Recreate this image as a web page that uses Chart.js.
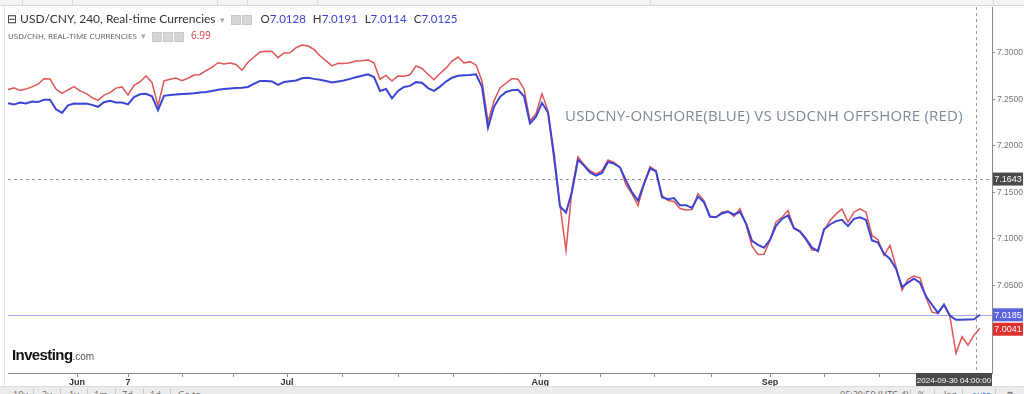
<!DOCTYPE html>
<html>
<head>
<meta charset="utf-8">
<script src="https://cdn.jsdelivr.net/npm/chart.js@4.4.1/dist/chart.umd.min.js"></script>
<style>
  html, body { margin: 0; padding: 0; background: #fff; }
  #wrap { position: relative; width: 1024px; height: 394px; overflow: hidden; font-family: "Open Sans", "Liberation Sans", sans-serif; }
  #chart { position: absolute; left: 0; top: 0; }
  .topbar { position: absolute; left: 0; top: 0; width: 1024px; height: 5px; background: #f4f4f4; border-bottom: 1px solid #d8d8d8; }
  .topbar i { position: absolute; top: 0; width: 1px; height: 5px; background: #d8d8d8; }
  .leftline { position: absolute; left: 4px; top: 6px; width: 1px; height: 380px; background: #e4e4e4; }
  .hdr1 { position: absolute; left: 7px; top: 11px; font-family: Lato, sans-serif; font-size: 12px; color: #333; white-space: nowrap; }
  .hdr1 .ohlc { font-size: 11.5px; color: #333; margin-left: 8px; }
  .hdr1 .ohlc b { font-weight: normal; color: #3a3fd6; margin-right: 7px; }
  .hdr2 { position: absolute; left: 8px; top: 28px; font-size: 8px; color: #555; white-space: nowrap; }
  .hdr2 .v { color: #e03a3a; font-size: 10px; margin-left: 6px; }
  .ico { display: inline-block; width: 8px; height: 8px; background: #d6d6d6; border: 1px solid #c8c8c8; margin-right: 1px; vertical-align: middle; }
  .dd { color: #aaa; margin: 0 6px 0 4px; font-size: 9px; }
  .note { position: absolute; left: 565px; top: 105px; font-size: 15px; color: #7d8999; white-space: nowrap; letter-spacing: 0.2px; }
  .logo { position: absolute; left: 12px; top: 346px; white-space: nowrap; font-family: "Liberation Sans", sans-serif; }
  .logo b { font-size: 15px; color: #111; letter-spacing: -0.6px; }
  .logo span { font-size: 10px; color: #555; }
  .botbar { position: absolute; left: 0; top: 386px; width: 1024px; height: 8px; background: #ececec; border-top: 1px solid #dcdcdc; overflow: hidden; font-size: 9px; color: #666; }
  .botbar span { position: absolute; top: 1px; white-space: nowrap; }
  .botbar i { position: absolute; top: 2px; width: 1px; height: 6px; background: #c8c8c8; }
</style>
</head>
<body>
<div id="wrap">
  <canvas id="chart" width="1024" height="394"></canvas>
  <div class="topbar"><i style="left:22px"></i><i style="left:72px"></i><i style="left:217px"></i><i style="left:247px"></i><i style="left:317px"></i><i style="left:650px"></i><i style="left:993px"></i></div>
  <div class="leftline"></div>
  <div class="hdr1">⊟ USD/CNY, 240, Real-time Currencies<span class="dd">▾</span><span class="ico"></span><span class="ico"></span><span class="ohlc">O<b>7.0128</b>H<b>7.0191</b>L<b>7.0114</b>C<b>7.0125</b></span></div>
  <div class="hdr2">USD/CNH, REAL-TIME CURRENCIES<span class="dd">▾</span><span class="ico"></span><span class="ico"></span><span class="ico"></span><span class="v">6.99</span></div>
  <div class="note">USDCNY-ONSHORE(BLUE) VS USDCNH OFFSHORE (RED)</div>
  <div class="logo"><b>Investing</b><span>.com</span></div>
  <div class="botbar">
    <span style="left:13px">10y</span><i style="left:33px"></i>
    <span style="left:42px">3y</span><i style="left:60px"></i>
    <span style="left:69px">1y</span><i style="left:87px"></i>
    <span style="left:94px">1m</span><i style="left:115px"></i>
    <span style="left:122px">7d</span><i style="left:143px"></i>
    <span style="left:150px">1d</span><i style="left:170px"></i>
    <span style="left:178px">Go to...</span>
    <span style="left:840px">05:20:59 (UTC-4)</span><i style="left:910px"></i>
    <span style="left:918px">%</span><i style="left:934px"></i>
    <span style="left:944px">log</span><i style="left:962px"></i>
    <span style="left:972px;color:#3c78d8">auto</span><i style="left:995px"></i>
    <span style="left:1006px">⚙</span>
  </div>
</div>
<script>
// USD/CNY onshore (blue) and USD/CNH offshore (red), 4h bars, late May - 30 Sep 2024
const blueValues = [
  7.2457, 7.2443, 7.2465, 7.2456, 7.2475, 7.2470, 7.2495, 7.2495, 7.2392, 7.2354,
  7.2435, 7.2454, 7.2452, 7.2455, 7.2440, 7.2419, 7.2468, 7.2483, 7.2466, 7.2465,
  7.2445, 7.2524, 7.2553, 7.2558, 7.2531, 7.2383, 7.2537, 7.2547, 7.2551, 7.2556,
  7.2560, 7.2565, 7.2572, 7.2578, 7.2588, 7.2603, 7.2611, 7.2617, 7.2620, 7.2623,
  7.2632, 7.2667, 7.2697, 7.2697, 7.2692, 7.2655, 7.2685, 7.2693, 7.2702, 7.2726,
  7.2731, 7.2719, 7.2710, 7.2696, 7.2681, 7.2692, 7.2701, 7.2719, 7.2736, 7.2752,
  7.2769, 7.2738, 7.2590, 7.2611, 7.2510, 7.2590, 7.2633, 7.2644, 7.2684, 7.2678,
  7.2620, 7.2590, 7.2636, 7.2690, 7.2732, 7.2752, 7.2758, 7.2761, 7.2768, 7.2633,
  7.2194, 7.2419, 7.2526, 7.2579, 7.2598, 7.2601, 7.2533, 7.2240, 7.2312, 7.2462,
  7.2358, 7.1905, 7.1348, 7.1284, 7.1509, 7.1851, 7.1787, 7.1715, 7.1680, 7.1709,
  7.1827, 7.1809, 7.1769, 7.1626, 7.1501, 7.1412, 7.1594, 7.1755, 7.1727, 7.1448,
  7.1427, 7.1439, 7.1361, 7.1363, 7.1332, 7.1455, 7.1394, 7.1241, 7.1232, 7.1273,
  7.1291, 7.1262, 7.1291, 7.1168, 7.0979, 7.0936, 7.0905, 7.0992, 7.1141, 7.1215,
  7.1252, 7.1115, 7.1082, 7.1001, 7.0906, 7.0869, 7.1104, 7.1155, 7.1191, 7.1206,
  7.1138, 7.1216, 7.1233, 7.1204, 7.0984, 7.0962, 7.0842, 7.0785, 7.0681, 7.0484,
  7.0531, 7.0573, 7.0529, 7.0384, 7.0293, 7.0205, 7.0293, 7.0175, 7.0132, 7.0132,
  7.0135, 7.0138, 7.0185
];
const redValues = [
  7.2605, 7.2622, 7.2595, 7.2611, 7.2633, 7.2662, 7.2721, 7.2719, 7.2608, 7.2563,
  7.2601, 7.2636, 7.2590, 7.2563, 7.2518, 7.2488, 7.2544, 7.2572, 7.2620, 7.2633,
  7.2547, 7.2649, 7.2686, 7.2751, 7.2679, 7.2429, 7.2697, 7.2715, 7.2729, 7.2700,
  7.2726, 7.2761, 7.2767, 7.2807, 7.2842, 7.2893, 7.2879, 7.2890, 7.2873, 7.2812,
  7.2897, 7.2954, 7.3008, 7.3015, 7.3013, 7.2947, 7.2997, 7.3000, 7.3054, 7.3082,
  7.3072, 7.3036, 7.2968, 7.2913, 7.2858, 7.2887, 7.2884, 7.2893, 7.2910, 7.2913,
  7.2923, 7.2890, 7.2715, 7.2756, 7.2697, 7.2751, 7.2747, 7.2763, 7.2858, 7.2831,
  7.2769, 7.2709, 7.2777, 7.2834, 7.2911, 7.2954, 7.2890, 7.2904, 7.2869, 7.2697,
  7.2258, 7.2483, 7.2622, 7.2672, 7.2722, 7.2715, 7.2614, 7.2269, 7.2344, 7.2560,
  7.2376, 7.1851, 7.1359, 7.0877, 7.1541, 7.1883, 7.1798, 7.1733, 7.1698, 7.1733,
  7.1848, 7.1822, 7.1769, 7.1584, 7.1484, 7.1359, 7.1584, 7.1776, 7.1733, 7.1466,
  7.1412, 7.1402, 7.1327, 7.1310, 7.1316, 7.1487, 7.1412, 7.1235, 7.1235, 7.1287,
  7.1300, 7.1241, 7.1323, 7.1155, 7.0923, 7.0834, 7.0836, 7.0984, 7.1183, 7.1233,
  7.1305, 7.1115, 7.1073, 7.0990, 7.0880, 7.0877, 7.1091, 7.1198, 7.1269, 7.1323,
  7.1180, 7.1287, 7.1323, 7.1287, 7.1037, 7.0992, 7.0823, 7.0930, 7.0703, 7.0449,
  7.0566, 7.0601, 7.0583, 7.0370, 7.0213, 7.0199, 7.0301, 7.0163, 6.9771, 6.9950,
  6.9860, 6.9967, 7.0041
];

// x axis marks, in bar index units
const tickPos = [11.5, 20, 29, 37.5, 46.5, 55.7, 65, 74.2, 88.7, 98.7, 107.8, 117.3, 127, 136, 145.3, 154.5];
const tickText = ['Jun', '7', '', '', 'Jul', '', '', '', 'Aug', '', '', '', 'Sep', '', '', ''];
const priceTicks = [7.0, 7.05, 7.1, 7.15, 7.2, 7.25, 7.3];
const markPrice = 7.1643;
const cursorTime = '2024-09-30 04:00:00';

const BLUE = '#3b44d4';
const RED = '#e05555';

function box(ctx, x, y, w, h, bg, text, size) {
  ctx.fillStyle = bg;
  ctx.fillRect(x, y, w, h);
  ctx.fillStyle = '#fff';
  ctx.font = (size || 9) + 'px "Liberation Sans", sans-serif';
  ctx.textAlign = 'center';
  ctx.textBaseline = 'middle';
  ctx.fillText(text, x + w / 2, y + h / 2 + 0.5);
}

const overlay = {
  id: 'overlay',
  beforeDatasetsDraw(chart) {
    const { ctx, chartArea: a, scales: { x, y } } = chart;
    ctx.save();
    // last close line of the blue series
    const yb = Math.round(y.getPixelForValue(blueValues[blueValues.length - 1])) + 0.5;
    ctx.strokeStyle = '#a5a5f5';
    ctx.lineWidth = 1;
    ctx.beginPath(); ctx.moveTo(a.left, yb); ctx.lineTo(a.right, yb); ctx.stroke();
    // crosshair
    ctx.strokeStyle = '#9a9a9a';
    ctx.setLineDash([3, 3]);
    const ym = Math.round(y.getPixelForValue(markPrice)) + 0.5;
    ctx.beginPath(); ctx.moveTo(a.left, ym); ctx.lineTo(a.right, ym); ctx.stroke();
    const xc = Math.round(x.getPixelForValue(blueValues.length - 1.6)) + 0.5;
    ctx.beginPath(); ctx.moveTo(xc, a.top); ctx.lineTo(xc, a.bottom); ctx.stroke();
    ctx.restore();
  },
  afterDraw(chart) {
    const { ctx, chartArea: a, scales: { x, y } } = chart;
    ctx.save();
    const bx = a.right + 1, bw = 30, bh = 13;
    box(ctx, bx, y.getPixelForValue(markPrice) - bh / 2, bw, bh, '#4a4a4a', markPrice.toFixed(4));
    const lastBlue = blueValues[blueValues.length - 1];
    const lastRed = redValues[redValues.length - 1];
    box(ctx, bx, y.getPixelForValue(lastBlue) - bh / 2, bw, bh, '#5b62e0', lastBlue.toFixed(4));
    box(ctx, bx, y.getPixelForValue(lastRed) - bh / 2 + 1, bw, bh, '#e0302c', lastRed.toFixed(4));
    box(ctx, a.right - 76, a.bottom, 76, 14, '#4a4a4a', cursorTime, 8);
    ctx.restore();
  }
};

const ctx = document.getElementById('chart').getContext('2d');
const chart = new Chart(ctx, {
  type: 'line',
  data: {
    datasets: [
      {
        label: 'USD/CNY',
        data: blueValues.map((v, i) => ({ x: i, y: v })),
        borderColor: BLUE,
        borderWidth: 2,
        order: 0
      },
      {
        label: 'USD/CNH',
        data: redValues.map((v, i) => ({ x: i, y: v })),
        borderColor: RED,
        borderWidth: 1.5,
        order: 1
      }
    ]
  },
  options: {
    responsive: false,
    animation: false,
    devicePixelRatio: 1,
    layout: { padding: { left: 8, top: 6, right: 0, bottom: 0 } },
    elements: { point: { radius: 0 }, line: { tension: 0 } },
    plugins: { legend: { display: false }, tooltip: { enabled: false } },
    scales: {
      x: {
        type: 'linear',
        min: 0,
        max: 164,
        afterBuildTicks: s => { s.ticks = tickPos.map(v => ({ value: v })); },
        afterFit: s => { s.height = 21; },
        grid: { drawOnChartArea: false, tickLength: 4, color: '#8a8a8a' },
        border: { color: '#8a8a8a' },
        ticks: {
          autoSkip: false,
          maxRotation: 0,
          padding: 0,
          color: '#333',
          font: { size: 9, weight: 'bold', family: '"Liberation Sans", sans-serif' },
          callback: (v, i) => tickText[i]
        }
      },
      y: {
        position: 'right',
        min: 6.956,
        max: 7.349,
        afterBuildTicks: s => { s.ticks = priceTicks.map(v => ({ value: v })); },
        afterFit: s => { s.width = 32; },
        grid: { drawOnChartArea: false, tickLength: 3, color: '#8a8a8a' },
        border: { color: '#8a8a8a' },
        ticks: {
          padding: 2,
          color: '#777',
          font: { size: 8.5, family: '"Liberation Sans", sans-serif' },
          callback: v => v.toFixed(4)
        }
      }
    }
  },
  plugins: [overlay]
});
</script>
</body>
</html>
